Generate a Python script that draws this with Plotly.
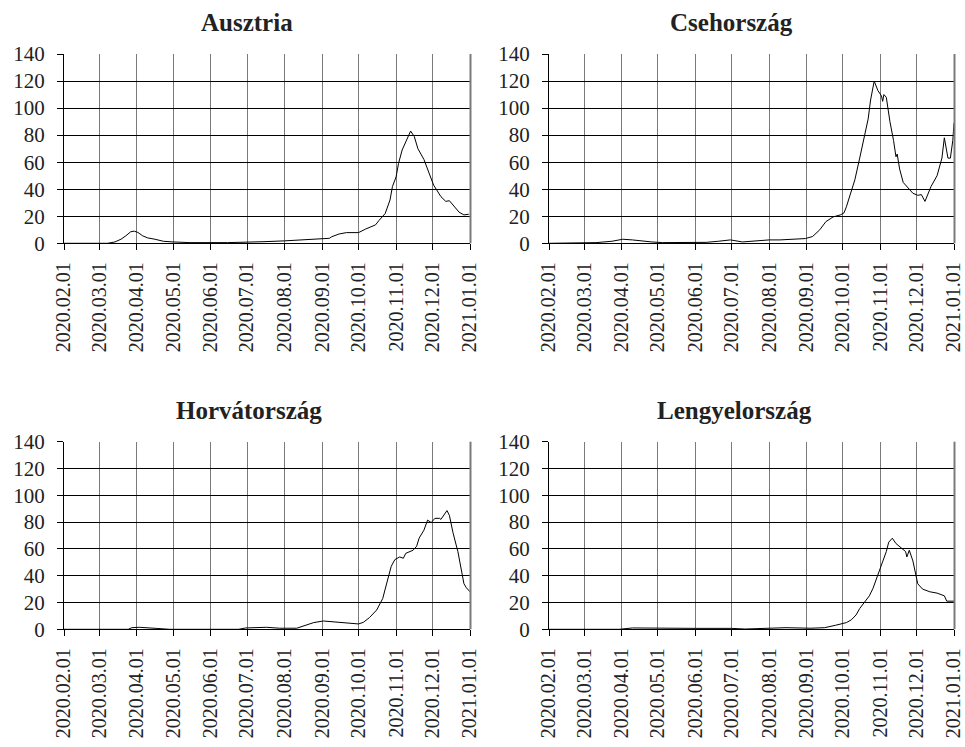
import plotly.graph_objects as go

# ---- Data: 7-day incidence style values per country (per 100k), 2020 ----
at_dates = ["2020-02-01", "2020-03-08", "2020-03-14", "2020-03-19", "2020-03-23", "2020-03-27",
            "2020-03-30", "2020-04-02", "2020-04-06", "2020-04-10", "2020-04-16", "2020-04-23",
            "2020-05-01", "2020-05-15", "2020-06-15", "2020-07-01", "2020-07-15", "2020-08-01",
            "2020-08-13", "2020-08-21", "2020-09-07", "2020-09-09", "2020-09-15", "2020-09-21",
            "2020-10-01", "2020-10-07", "2020-10-15", "2020-10-18", "2020-10-23", "2020-10-27",
            "2020-10-29", "2020-11-01", "2020-11-03", "2020-11-06", "2020-11-09", "2020-11-13",
            "2020-11-16", "2020-11-19", "2020-11-24", "2020-11-28", "2020-12-02", "2020-12-08",
            "2020-12-12", "2020-12-15", "2020-12-19", "2020-12-23", "2020-12-27", "2020-12-31"]
at_values = [0, 0, 1, 3, 5.5, 8.5,
             9, 8, 5.5, 4, 3, 1.5,
             1, 0.5, 0.5, 0.6, 1.2, 1.8,
             2.4, 3.2, 3.7, 4.9, 6.9, 7.9,
             7.9, 10.6, 13.6, 17, 22, 32,
             42, 49, 59, 69, 75, 83,
             79, 70, 62, 53, 43, 34.5,
             31, 31.5, 27, 23, 21, 21.5]

cz_dates = ["2020-02-01", "2020-03-05", "2020-03-11", "2020-03-24", "2020-04-02", "2020-04-10",
            "2020-04-18", "2020-04-26", "2020-05-05", "2020-06-10", "2020-06-20", "2020-06-30",
            "2020-07-10", "2020-07-21", "2020-08-01", "2020-08-10", "2020-08-21", "2020-08-31",
            "2020-09-06", "2020-09-12", "2020-09-17", "2020-09-23", "2020-09-29", "2020-10-02",
            "2020-10-04", "2020-10-08", "2020-10-11", "2020-10-15", "2020-10-19", "2020-10-22",
            "2020-10-24", "2020-10-27", "2020-10-30", "2020-11-02", "2020-11-03", "2020-11-04",
            "2020-11-06", "2020-11-09", "2020-11-12", "2020-11-14", "2020-11-15", "2020-11-17",
            "2020-11-20", "2020-11-24", "2020-11-28", "2020-12-02", "2020-12-05", "2020-12-08",
            "2020-12-11", "2020-12-13", "2020-12-18", "2020-12-22", "2020-12-24", "2020-12-27",
            "2020-12-29", "2020-12-31", "2021-01-01"]
cz_values = [0, 0, 0.5, 1.5, 3, 2.5,
             1.5, 1, 0.5, 0.7, 1.5, 2.5,
             1, 2, 2.5, 2.5, 3, 3.5,
             5, 10, 16, 19.5, 21, 22.5,
             27, 39, 47, 63, 80, 92,
             106, 120, 113, 109, 105, 110,
             108, 90, 76, 64, 66, 55,
             45, 41, 37, 35.5, 36, 31,
             38, 42, 50, 63, 78, 63,
             63, 76, 89]

hr_dates = ["2020-02-01", "2020-03-25", "2020-03-28", "2020-04-03", "2020-04-17", "2020-04-28",
            "2020-06-24", "2020-06-30", "2020-07-17", "2020-07-28", "2020-08-11", "2020-08-17",
            "2020-08-25", "2020-09-02", "2020-09-10", "2020-09-21", "2020-10-01", "2020-10-05",
            "2020-10-10", "2020-10-16", "2020-10-21", "2020-10-25", "2020-10-28", "2020-10-31",
            "2020-11-04", "2020-11-07", "2020-11-09", "2020-11-15", "2020-11-18", "2020-11-20",
            "2020-11-24", "2020-11-27", "2020-11-30", "2020-12-03", "2020-12-07", "2020-12-08",
            "2020-12-11", "2020-12-13", "2020-12-15", "2020-12-18", "2020-12-22", "2020-12-25",
            "2020-12-27", "2020-12-29", "2021-01-01"]
hr_values = [0, 0, 1.2, 1.5, 0.7, 0,
             0, 1, 1.5, 0.8, 0.8, 2.7,
             5, 6.2, 5.7, 4.5, 4, 5.2,
             8.7, 14.4, 23, 36.8, 47, 52,
             54, 53, 56.7, 59, 62, 68,
             74, 81.5, 79.6, 82.8, 82.8, 82,
             86.6, 88.6, 85, 72, 58, 42,
             34, 31, 28]

pl_dates = ["2020-02-01", "2020-03-30", "2020-04-10", "2020-05-01", "2020-06-01", "2020-07-01",
            "2020-07-12", "2020-07-22", "2020-08-01", "2020-08-15", "2020-09-04", "2020-09-16",
            "2020-09-25", "2020-10-04", "2020-10-08", "2020-10-12", "2020-10-15", "2020-10-18",
            "2020-10-23", "2020-10-26", "2020-10-30", "2020-11-01", "2020-11-06", "2020-11-08",
            "2020-11-11", "2020-11-14", "2020-11-17", "2020-11-22", "2020-11-23", "2020-11-25",
            "2020-11-28", "2020-11-30", "2020-12-02", "2020-12-06", "2020-12-12", "2020-12-18",
            "2020-12-22", "2020-12-24", "2020-12-26", "2021-01-01"]
pl_values = [0, 0, 1, 0.7, 0.7, 0.7,
             0.2, 0.5, 1, 1.2, 0.8, 1.2,
             3, 5, 7, 10.7, 15.5, 19,
             25, 30.6, 41, 46, 58, 65,
             68, 64, 62, 58, 54, 59,
             51, 42, 34, 30, 28, 27,
             25.5, 25, 21, 21]

titles = ["Ausztria", "Csehország", "Horvátország", "Lengyelország"]
month_ticks = ["2020-02-01", "2020-03-01", "2020-04-01", "2020-05-01", "2020-06-01", "2020-07-01",
               "2020-08-01", "2020-09-01", "2020-10-01", "2020-11-01", "2020-12-01", "2021-01-01"]
y_ticks = [0, 20, 40, 60, 80, 100, 120, 140]

series = [(at_dates, at_values), (cz_dates, cz_values), (hr_dates, hr_values), (pl_dates, pl_values)]

W, H = 965, 747
# plot-area pixel boxes: (left, right, top, bottom)
boxes = [(64, 470, 54, 243.3), (549, 954, 54, 243.3),
         (64, 470, 441.7, 629.3), (549, 954, 441.7, 629.3)]
title_pos = [(247, 22), (731, 22), (249, 410), (734, 410)]

FONT = "Liberation Serif"
TEXT = "#222222"
fig = go.Figure()
layout = dict(
    template="none",
    width=W, height=H, autosize=False, margin=dict(l=0, r=0, t=0, b=0, pad=0),
    paper_bgcolor="white", plot_bgcolor="white", showlegend=False,
    font=dict(family=FONT, size=21, color=TEXT),
)
annotations = []
shapes = []
for i, ((d, v), (l, r, t, b), title, (tx, ty)) in enumerate(zip(series, boxes, titles, title_pos)):
    k = "" if i == 0 else str(i + 1)
    fig.add_trace(go.Scatter(x=d, y=v, mode="lines", line=dict(color="black", width=1),
                             xaxis="x" + k, yaxis="y" + k, hoverinfo="skip"))
    layout["xaxis" + k] = dict(
        domain=[l / W, r / W], anchor="y" + k, type="date", automargin=False,
        range=["2020-02-01", "2021-01-01"],
        tickmode="array", tickvals=month_ticks, tickformat="%Y.%m.%d", tickangle=-90,
        ticklabeloverflow="allow",
        showgrid=True, gridcolor="#7a7a7a", gridwidth=1,
        showline=True, linecolor="black", linewidth=1,
        ticks="outside", ticklen=6, tickcolor="black", ticklabelstandoff=4,
        mirror=False, zeroline=False, fixedrange=True,
        tickfont=dict(family=FONT, size=20, color=TEXT),
    )
    layout["yaxis" + k] = dict(
        domain=[1 - b / H, 1 - t / H], anchor="x" + k, automargin=False,
        range=[0, 140], tickmode="array", tickvals=y_ticks,
        showgrid=True, gridcolor="black", gridwidth=1,
        showline=True, linecolor="black", linewidth=1,
        ticks="outside", ticklen=6, tickcolor="black", ticklabelstandoff=8,
        zeroline=False, fixedrange=True,
        tickfont=dict(family=FONT, size=21, color=TEXT),
    )
    annotations.append(dict(text="<b>" + title + "</b>", x=tx / W, y=1 - ty / H,
                            xref="paper", yref="paper", xanchor="center", yanchor="middle",
                            showarrow=False, font=dict(family=FONT, size=25, color=TEXT)))
    # gray right-hand border of each panel
    shapes.append(dict(type="line", xref="paper", yref="paper",
                       x0=(r + 0.5) / W, x1=(r + 0.5) / W, y0=1 - b / H, y1=1 - t / H,
                       line=dict(color="#7a7a7a", width=2)))

layout["annotations"] = annotations
layout["shapes"] = shapes
fig.update_layout(**layout)
fig.write_html("out.html")
